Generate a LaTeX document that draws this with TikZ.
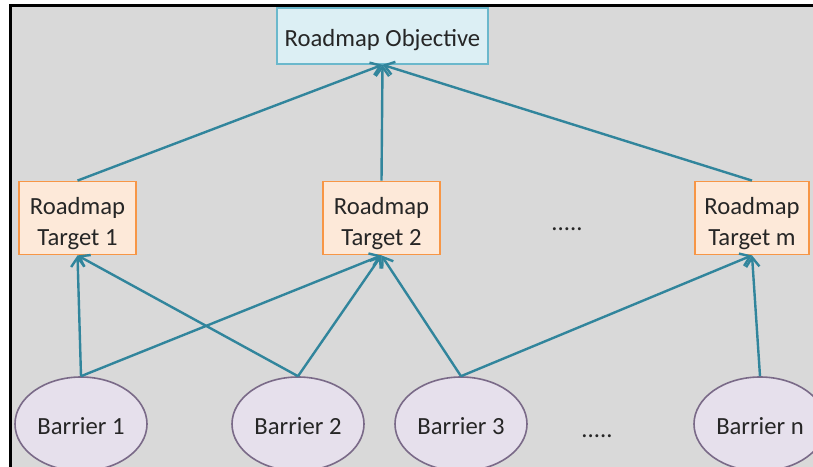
\documentclass[tikz,border=0pt]{standalone}
\usepackage{fontspec}
\setmainfont{Carlito}
\usepackage{tikz}
\usetikzlibrary{arrows.meta,shapes.geometric}
\definecolor{bggray}{HTML}{D9D9D9}
\definecolor{linkteal}{HTML}{31859C}
\definecolor{objfill}{HTML}{DCEFF4}
\definecolor{objline}{HTML}{6BB8CC}
\definecolor{tgtfill}{HTML}{FDE9D9}
\definecolor{tgtline}{HTML}{F79646}
\definecolor{barfill}{HTML}{E6E0EC}
\definecolor{barline}{HTML}{7A6A88}
\definecolor{txtgray}{HTML}{262626}
\newcommand{\rmpad}[1]{\rule{0pt}{#1}}
\newcommand{\rmtwo}[2]{\begin{tabular}{@{}c@{}}\rmpad{25pt}#1\\#2\end{tabular}}

\begin{document}
\begin{tikzpicture}[x=0.75pt,y=-0.75pt]
        \tikzset{
        rm node/.style={draw,line width=1.2pt,inner sep=0,text=txtgray,
            font=\fontsize{18.5}{23}\selectfont},
        rm obj/.style={rm node,fill=objfill,draw=objline,minimum width=158pt,minimum height=42pt,
            execute at begin node=\rmpad{19pt}},
        rm target/.style={rm node,fill=tgtfill,draw=tgtline,minimum width=88pt,minimum height=52.5pt},
        rm barrier/.style={rm node,ellipse,fill=barfill,draw=barline,minimum width=99pt,minimum height=70.5pt,
            execute at begin node=\rmpad{16pt}},
        rm dots/.style={text=txtgray,font=\fontsize{18.5}{23}\selectfont},
        rm edge/.style={-{Straight Barb[length=7pt,width=10pt]},draw=linkteal,line width=1.8pt}
        }
        \useasboundingbox (0,0) rectangle (813,467);
        \clip (0,0) rectangle (813,467);
        % frame
        \fill[bggray] (9,4) rectangle (813,467);
        \draw[line width=2.4pt] (10.5,467) -- (10.5,5.5) -- (813,5.5);

        \node[rm obj] (obj) at (382.5, 36) {Roadmap Objective};
        \node[rm target] (t1) at (77.5, 218) {\rmtwo{Roadmap}{Target 1}};
        \node[rm target] (t2) at (381.5, 218) {\rmtwo{Roadmap}{Target 2}};
        \node[rm target, minimum width=85.5pt] (tm) at (752, 218) {\rmtwo{Roadmap}{Target m}};
        \node[rm dots] (tdots) at (567, 229) {.....};

        \node[rm barrier] (b1) at (81, 424) {Barrier 1};
        \node[rm barrier] (b2) at (298, 424) {Barrier 2};
        \node[rm barrier] (b3) at (461, 424) {Barrier 3};
        \node[rm barrier] (bn) at (760, 424) {Barrier n};
        \node[rm dots] (bdots) at (597, 436) {.....};

        \path
        (t1.north) edge[rm edge] (obj.south)
        (t2.north) edge[rm edge] (obj.south)
        (tm.north) edge[rm edge] (obj.south)
        (b1.north) edge[rm edge] (t1.south)
        (b2.north) edge[rm edge] (t1.south)
        (b1.north) edge[rm edge] (t2.south)
        (b2.north) edge[rm edge] (t2.south)
        (b3.north) edge[rm edge] (t2.south)
        (b3.north) edge[rm edge] (tm.south)
        (bn.north) edge[rm edge] (tm.south)
        ;
    \end{tikzpicture}
\end{document}
